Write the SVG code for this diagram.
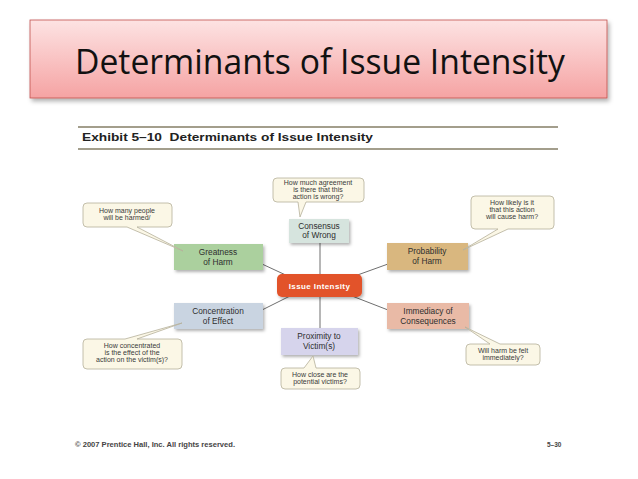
<svg xmlns="http://www.w3.org/2000/svg" width="638" height="479" viewBox="0 0 638 479">
<defs>
<linearGradient id="tg" x1="0" y1="0" x2="0" y2="1">
<stop offset="0" stop-color="#fde3e3"/>
<stop offset="1" stop-color="#f5a3a3"/>
</linearGradient>
<filter id="sh" x="-20%" y="-20%" width="150%" height="160%">
<feDropShadow dx="1.5" dy="2" stdDeviation="1.5" flood-color="#000" flood-opacity="0.3"/>
</filter>
<filter id="tsh" x="-5%" y="-10%" width="110%" height="130%">
<feDropShadow dx="2" dy="3" stdDeviation="2" flood-color="#000" flood-opacity="0.3"/>
</filter>
<style>
.nt{font-family:"Liberation Sans",Arial,sans-serif;font-size:8.3px;fill:#2e2e2e;text-anchor:middle}
.ct{font-family:"Liberation Sans",Arial,sans-serif;font-size:7px;fill:#3a3a3a;text-anchor:middle}
.cb{fill:#fbf7e6;stroke:#b5b09a;stroke-width:0.8}
.ln{stroke:#6f6f6f;stroke-width:1;fill:none}
</style>
</defs>
<rect width="638" height="479" fill="#fff"/>
<g id="title">
<rect x="30" y="20" width="577" height="78" fill="url(#tg)" stroke="#c0504d" stroke-width="0.8" filter="url(#tsh)"/>
<text x="320" y="74" text-anchor="middle" font-family="Open Sans, Liberation Sans, sans-serif" font-size="34" fill="#111" textLength="490" lengthAdjust="spacingAndGlyphs">Determinants of Issue Intensity</text>
</g>
<g id="exhibit">
<line x1="78" y1="127" x2="558" y2="127" stroke="#a39e8c" stroke-width="2"/>
<line x1="78" y1="149" x2="558" y2="149" stroke="#a39e8c" stroke-width="2"/>
<text x="82" y="141" xml:space="preserve" font-family="Liberation Sans, Arial, sans-serif" font-size="11.5" font-weight="bold" fill="#222" textLength="291" lengthAdjust="spacingAndGlyphs">Exhibit 5–10  Determinants of Issue Intensity</text>
</g>
<g id="connectors">
<line class="ln" x1="320" y1="242" x2="320" y2="276"/>
<line class="ln" x1="320" y1="296" x2="320" y2="329"/>
<line class="ln" x1="262" y1="264" x2="290" y2="277"/>
<line class="ln" x1="388" y1="264" x2="352" y2="277"/>
<line class="ln" x1="262" y1="310" x2="290" y2="296"/>
<line class="ln" x1="388" y1="310" x2="352" y2="296"/>
</g>
<g id="consensus">
<rect x="289" y="219" width="60" height="24" fill="#d6e4de" filter="url(#sh)"/>
<text class="nt" x="319" y="229">Consensus</text>
<text class="nt" x="319" y="238">of Wrong</text>
<path class="cb" d="M277,178 H360 Q364,178 364,182 V198 Q364,202 360,202 H306 L300,217 L298,202 H277 Q273,202 273,198 V182 Q273,178 277,178 Z"/>
<text class="ct" x="318" y="185">How much agreement</text>
<text class="ct" x="318" y="192">is there that this</text>
<text class="ct" x="318" y="199">action is wrong?</text>
</g>
<g id="greatness">
<rect x="174" y="244" width="89" height="26" fill="#abd09e" filter="url(#sh)"/>
<text class="nt" x="218" y="255">Greatness</text>
<text class="nt" x="218" y="265">of Harm</text>
<path class="cb" d="M87,203 H168 Q172,203 172,207 V223 Q172,227 168,227 H137 L183,251 L127,227 H87 Q83,227 83,223 V207 Q83,203 87,203 Z"/>
<text class="ct" x="127" y="213">How many people</text>
<text class="ct" x="127" y="220">will be harmed/</text>
</g>
<g id="probability">
<rect x="387" y="243" width="81" height="27" fill="#d9b77f" filter="url(#sh)"/>
<text class="nt" x="427" y="254">Probability</text>
<text class="nt" x="427" y="264">of Harm</text>
<path class="cb" d="M475,196 H550 Q554,196 554,200 V225 Q554,229 550,229 H508 L463,250 L498,229 H475 Q471,229 471,225 V200 Q471,196 475,196 Z"/>
<text class="ct" x="512" y="205">How likely is it</text>
<text class="ct" x="512" y="212">that this action</text>
<text class="ct" x="512" y="219">will cause harm?</text>
</g>
<g id="issue-intensity">
<rect x="277" y="274" width="85" height="23" rx="5" fill="#e2532b" filter="url(#sh)"/>
<text x="319.5" y="288.5" text-anchor="middle" font-family="Liberation Sans, Arial, sans-serif" font-size="8" font-weight="bold" letter-spacing="0.4" fill="#fff">Issue Intensity</text>
</g>
<g id="concentration">
<rect x="174" y="303" width="89" height="26" fill="#c9d4e1" filter="url(#sh)"/>
<text class="nt" x="218" y="314">Concentration</text>
<text class="nt" x="218" y="324">of Effect</text>
<path class="cb" d="M87,339 H125 L182,323 L137,339 H178 Q182,339 182,343 V365 Q182,369 178,369 H87 Q83,369 83,365 V343 Q83,339 87,339 Z"/>
<text class="ct" x="132" y="348">How concentrated</text>
<text class="ct" x="132" y="355">is the effect of the</text>
<text class="ct" x="132" y="362">action on the victim(s)?</text>
</g>
<g id="immediacy">
<rect x="387" y="303" width="82" height="26" fill="#e9baa6" filter="url(#sh)"/>
<text class="nt" x="428" y="314">Immediacy of</text>
<text class="nt" x="428" y="324">Consequences</text>
<path class="cb" d="M470,344 H490 L465,327 L500,344 H536 Q540,344 540,348 V361 Q540,365 536,365 H470 Q466,365 466,361 V348 Q466,344 470,344 Z"/>
<text class="ct" x="503" y="353">Will harm be felt</text>
<text class="ct" x="503" y="360">immediately?</text>
</g>
<g id="proximity">
<rect x="281" y="328" width="77" height="27" fill="#d6d4ec" filter="url(#sh)"/>
<text class="nt" x="319" y="339">Proximity to</text>
<text class="nt" x="319" y="349">Victim(s)</text>
<path class="cb" d="M285,368 H304 L313,356 L316,368 H356 Q360,368 360,372 V385 Q360,389 356,389 H285 Q281,389 281,385 V372 Q281,368 285,368 Z"/>
<text class="ct" x="320" y="377">How close are the</text>
<text class="ct" x="320" y="384">potential victims?</text>
</g>
<g id="footer">
<text x="75" y="447" font-family="Liberation Sans, Arial, sans-serif" font-size="6.5" font-weight="bold" fill="#444" textLength="160" lengthAdjust="spacingAndGlyphs">© 2007 Prentice Hall, Inc. All rights reserved.</text>
<text x="547" y="447" font-family="Liberation Sans, Arial, sans-serif" font-size="6.5" font-weight="bold" fill="#444">5–30</text>
</g>
</svg>
